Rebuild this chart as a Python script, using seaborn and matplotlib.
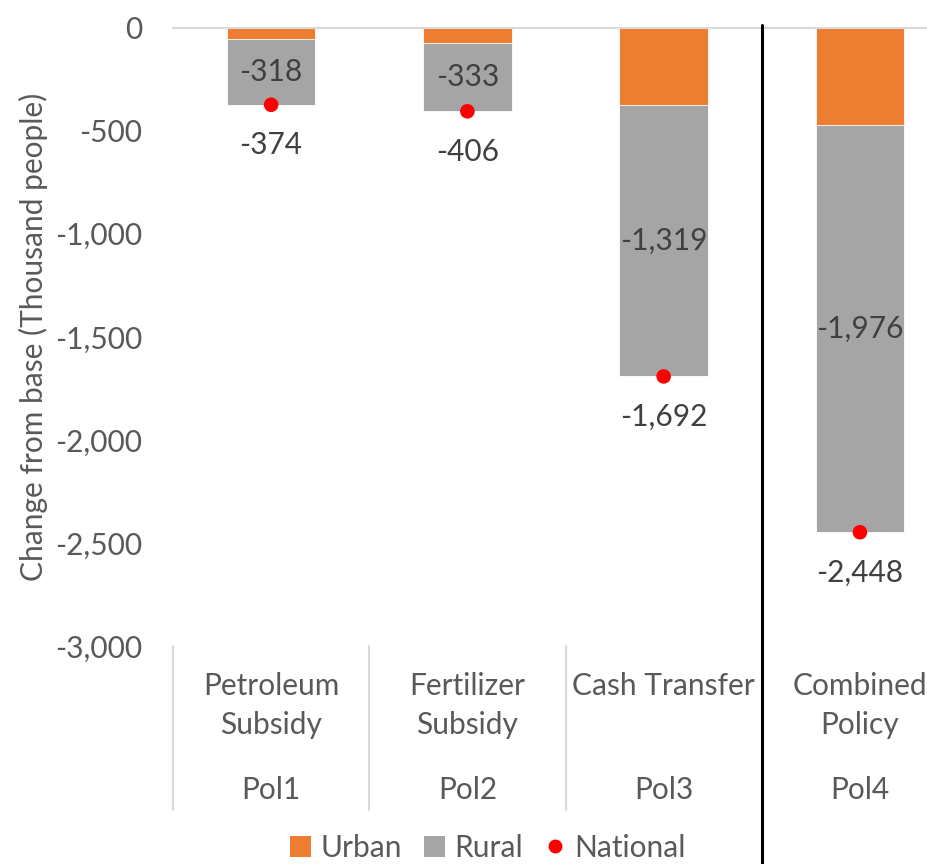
"""
Poverty change by policy scenario: urban / rural stacked bars with national total.
"""
import matplotlib
matplotlib.use('Agg')
import matplotlib.pyplot as plt
import matplotlib.transforms as mtransforms
from matplotlib.lines import Line2D
from matplotlib.patches import Patch
import seaborn as sns
import pandas as pd

# Data (thousand people, change from base)
policies = ['Pol1', 'Pol2', 'Pol3', 'Pol4']
policy_names = ['Petroleum\nSubsidy', 'Fertilizer\nSubsidy', 'Cash Transfer', 'Combined\nPolicy']
urban = [-56, -73, -373, -472]
rural = [-318, -333, -1319, -1976]
national = [-374, -406, -1692, -2448]

ORANGE = '#ED7D31'
GREY = '#A5A5A5'
RED = '#FF0000'
TEXT = '#595959'
LINE = '#D9D9D9'
FS = 21.5

sns.set_theme(style='white')
plt.rcParams['font.family'] = ['Lato', 'DejaVu Sans']
plt.rcParams['text.color'] = TEXT

df = pd.DataFrame({'policy': policies, 'urban': urban, 'rural': rural, 'national': national})

fig = plt.figure(figsize=(9.28, 8.64), dpi=100)
ax = fig.add_axes([0.1864, 0.2523, 0.846, 0.7157])

# Rural spans from urban down to national; draw total first, urban on top
sns.barplot(data=df, x='policy', y='national', color=GREY, width=0.45,
            saturation=1, edgecolor='white', linewidth=0.6, ax=ax)
sns.barplot(data=df, x='policy', y='urban', color=ORANGE, width=0.45,
            saturation=1, edgecolor='white', linewidth=0.6, ax=ax)
sns.scatterplot(data=df, x='policy', y='national', color=RED, s=110,
                edgecolor='none', zorder=5, ax=ax)

# Data labels
for i, row in df.iterrows():
    mid = row['urban'] + row['rural'] / 2
    ax.text(i, mid, f"{row['rural']:,}", ha='center', va='center', fontsize=FS, color='#404040')
    ax.annotate(f"{row['national']:,}", (i, row['national']), xytext=(0, -29),
                textcoords='offset points', ha='center', va='center', fontsize=FS, color='#404040')

ax.set_ylim(-3000, 0)
ax.set_xlim(-0.5, 3.5)
ax.set_yticks(range(-3000, 1, 500))
ax.set_yticklabels([f"{v:,}" for v in range(-3000, 1, 500)])
ax.tick_params(axis='y', labelsize=FS, labelcolor=TEXT, length=0, pad=22)
ax.set_xticks([])
ax.set_xlabel('')
ax.set_ylabel('Change from base (Thousand people)', fontsize=FS, color=TEXT, labelpad=5)

for side in ['left', 'right', 'bottom']:
    ax.spines[side].set_visible(False)
ax.spines['top'].set_color(LINE)
ax.spines['top'].set_linewidth(1.5)

# Two-level category axis below the plot
trans = mtransforms.blended_transform_factory(ax.transData, ax.transAxes)
for i, (name, pol) in enumerate(zip(policy_names, policies)):
    ax.text(i, -0.042, name, transform=trans, ha='center', va='top',
            fontsize=FS, color=TEXT, linespacing=1.5)
    ax.text(i, -0.233, pol, transform=trans, ha='center', va='center',
            fontsize=FS, color=TEXT)
for x in [-0.5, 0.5, 1.5]:
    ax.add_line(Line2D([x, x], [0, -0.265], transform=trans, color=LINE,
                       linewidth=1.5, clip_on=False))

# Separator between single policies and combined policy
ftrans = mtransforms.blended_transform_factory(ax.transData, fig.transFigure)
ax.add_line(Line2D([2.5, 2.5], [0, 0.971], transform=ftrans, color='black',
                   linewidth=2.2, clip_on=False, zorder=6))

handles = [
    Patch(facecolor=ORANGE, edgecolor='none', label='Urban'),
    Patch(facecolor=GREY, edgecolor='none', label='Rural'),
    Line2D([], [], marker='o', color='none', markerfacecolor=RED,
           markeredgecolor='none', markersize=10, label='National'),
]
fig.legend(handles=handles, loc='center', bbox_to_anchor=(0.526, 0.019), ncol=3,
           frameon=False, fontsize=FS, handlelength=0.7, handleheight=0.7,
           handletextpad=0.3, columnspacing=0.75, labelcolor=TEXT,
           borderpad=0.1)

fig.savefig('out.png', dpi=100)
